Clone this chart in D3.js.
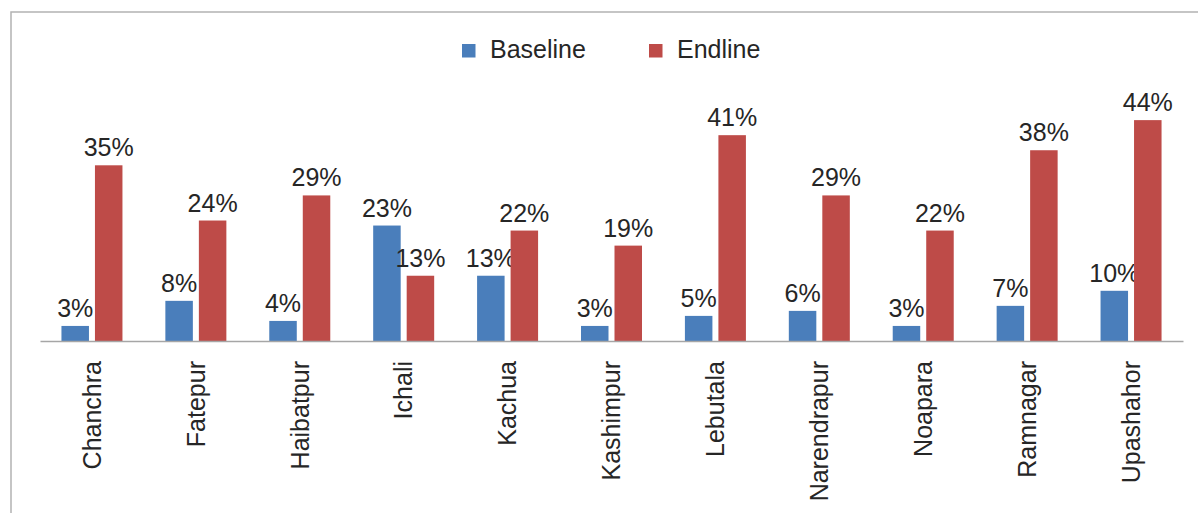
<!DOCTYPE html>
<html>
<head>
<meta charset="utf-8">
<script src="https://cdn.jsdelivr.net/npm/d3@7/dist/d3.min.js"></script>
<style>
  html, body { margin: 0; padding: 0; background: #fff; }
  svg { display: block; font-family: "Liberation Sans", Arial, sans-serif; }
</style>
</head>
<body>
<svg id="chart" width="1198" height="513"></svg>
<script>
// Share of households per village, baseline vs endline survey
const villages = ["Chanchra", "Fatepur", "Haibatpur", "Ichali", "Kachua", "Kashimpur",
                  "Lebutala", "Narendrapur", "Noapara", "Ramnagar", "Upashahor"];
const baseline = [3, 8, 4, 23, 13, 3, 5, 6, 3, 7, 10];
const endline  = [35, 24, 29, 13, 22, 19, 41, 29, 22, 38, 44];
const seriesNames = ["Baseline", "Endline"];
const seriesColors = ["#4A7EBB", "#BE4B48"];

const svg = d3.select("#chart");
const W = 1198, H = 513;
const textColor = "#262626";
const fontSize = 25;

// outer frame (left and top edges visible)
svg.append("path")
  .attr("d", `M11,${H} L11,12 L${W},12`)
  .attr("fill", "none")
  .attr("stroke", "#b3b3b3")
  .attr("stroke-width", 1.5);

const x = d3.scaleBand().domain(villages).range([40, 1183]);
const y = d3.scaleLinear().domain([0, 50]).range([341, 90]);

const barW = 27.5, gap = 6;
const series = [baseline, endline];

series.forEach((vals, s) => {
  const rows = villages.map((v, i) => ({ v, val: vals[i] }));
  const cx = d => x(d.v) + x.bandwidth() / 2 + (s === 0 ? -(gap / 2 + barW / 2) : (gap / 2 + barW / 2));

  svg.append("g").selectAll("rect").data(rows).join("rect")
    .attr("x", d => cx(d) - barW / 2)
    .attr("y", d => y(d.val))
    .attr("width", barW)
    .attr("height", d => y(0) - y(d.val))
    .attr("fill", seriesColors[s]);

  svg.append("g").selectAll("text").data(rows).join("text")
    .attr("x", d => cx(d))
    .attr("y", d => y(d.val) - 9)
    .attr("text-anchor", "middle")
    .attr("font-size", fontSize)
    .attr("fill", textColor)
    .text(d => d.val + "%");
});

// category axis
const xAxis = svg.append("g")
  .attr("transform", `translate(0,${y(0)})`)
  .call(d3.axisBottom(x).tickSize(0).tickPadding(0));
xAxis.select(".domain").attr("stroke", "#a6a6a6").attr("stroke-width", 1.5);
xAxis.selectAll(".tick text")
  .attr("font-size", fontSize)
  .attr("font-family", "Liberation Sans, Arial, sans-serif")
  .attr("fill", textColor)
  .attr("transform", "rotate(-90)")
  .attr("text-anchor", "end")
  .attr("x", -20)
  .attr("y", 0)
  .attr("dy", "0.35em");

// legend
const legend = svg.append("g");
const legendX = [462, 649];
seriesNames.forEach((name, s) => {
  legend.append("rect")
    .attr("x", legendX[s]).attr("y", 44)
    .attr("width", 13.5).attr("height", 13.5)
    .attr("fill", seriesColors[s]);
  legend.append("text")
    .attr("x", legendX[s] + 28).attr("y", 58.3)
    .attr("font-size", fontSize)
    .attr("fill", textColor)
    .text(name);
});
</script>
</body>
</html>
